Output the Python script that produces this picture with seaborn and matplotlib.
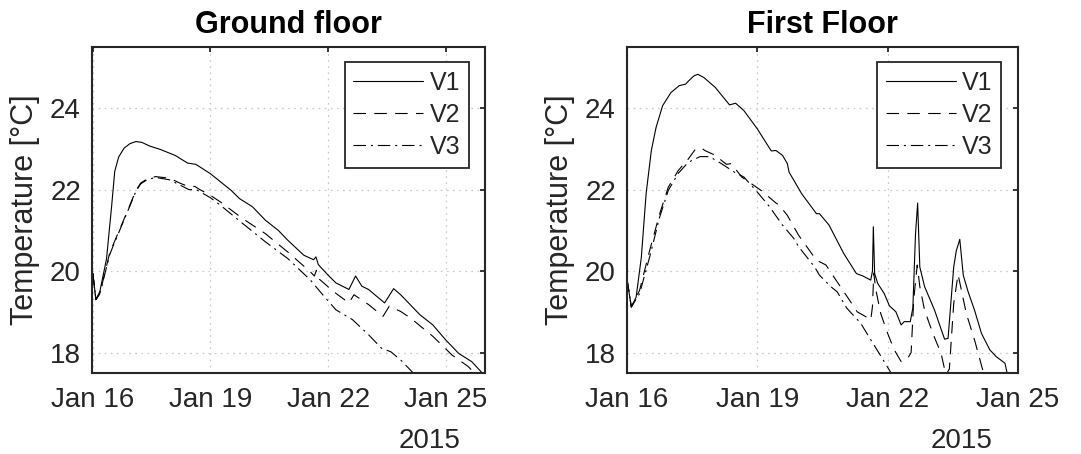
import numpy as np
import pandas as pd
import matplotlib
matplotlib.use("Agg")
import matplotlib.pyplot as plt
import matplotlib.dates as mdates
import seaborn as sns

# ---------------- data (days since 2015-01-16 00:00, temperature in °C) ----------------
gf_v1_day = [0.00, 0.08, 0.18, 0.35, 0.48, 0.56, 0.66, 0.80, 0.95, 1.10, 1.25, 1.45, 1.71, 2.10, 2.42,
             2.63, 3.00, 3.53, 3.74, 4.07, 4.40, 4.73, 4.97, 5.38, 5.63, 5.69, 5.75, 6.00, 6.20,
             6.53, 6.70, 6.86, 7.03, 7.44, 7.67, 7.85, 8.34, 8.67, 9.00, 9.33, 9.66, 9.94, 10.05]
gf_v1 = [19.95, 19.30, 19.50, 20.30, 21.59, 22.45, 22.80, 23.02, 23.13, 23.18, 23.16, 23.07, 22.99, 22.84, 22.65,
         22.62, 22.39, 21.98, 21.78, 21.58, 21.25, 21.00, 20.76, 20.39, 20.28, 20.35, 20.16, 19.90, 19.71,
         19.55, 19.88, 19.63, 19.55, 19.22, 19.57, 19.42, 18.93, 18.68, 18.31, 17.98, 17.78, 17.49, 17.35]

gf_v2_day = [0.00, 0.08, 0.18, 0.43, 0.52, 0.86, 1.10, 1.22, 1.38, 1.60, 1.96, 2.22, 2.45, 2.60, 2.73, 3.00,
             3.25, 3.82, 4.40, 4.97, 5.55, 5.65, 5.70, 5.78, 5.90, 6.12, 6.53, 6.66, 7.03, 7.40, 7.56,
             7.85, 8.10, 8.67, 9.16, 9.57, 9.74, 9.90]
gf_v2 = [19.95, 19.30, 19.45, 20.44, 20.65, 21.42, 21.98, 22.16, 22.26, 22.32, 22.28, 22.16, 22.07, 22.08, 22.00, 21.86,
         21.70, 21.29, 20.92, 20.47, 19.98, 19.88, 20.02, 19.80, 19.70, 19.51, 19.22, 19.42, 19.18, 18.89, 19.14,
         19.01, 18.85, 18.40, 17.94, 17.66, 17.49, 17.35]

gf_v3_day = [0.00, 0.08, 0.18, 0.43, 0.52, 0.86, 1.10, 1.22, 1.38, 1.60, 1.96, 2.45, 2.64, 3.00, 3.25, 3.82,
             4.40, 4.97, 5.55, 5.88, 6.20, 6.62, 7.03, 7.36, 7.60, 7.85, 8.18, 8.40]
gf_v3 = [19.95, 19.30, 19.45, 20.40, 20.62, 21.40, 21.96, 22.14, 22.24, 22.30, 22.24, 22.00, 22.00, 21.80, 21.62, 21.17,
         20.72, 20.31, 19.78, 19.40, 19.05, 18.81, 18.44, 18.11, 18.02, 17.82, 17.49, 17.30]

ff_v1_day = [0.00, 0.10, 0.21, 0.33, 0.44, 0.56, 0.67, 0.82, 1.01, 1.20, 1.35, 1.42, 1.54, 1.63, 1.77,
             2.03, 2.36, 2.50, 2.69, 3.00, 3.32, 3.43, 3.58, 3.69, 3.73, 4.02, 4.36, 4.43, 4.65, 4.99,
             5.28, 5.43, 5.61, 5.65, 5.67, 5.70, 5.77, 5.92, 6.04, 6.19, 6.31, 6.38, 6.52, 6.58, 6.64,
             6.69, 6.74, 6.85, 7.08, 7.31, 7.39, 7.52, 7.58, 7.66, 7.74, 7.85, 8.00, 8.16, 8.35, 8.50,
             8.70, 8.76, 8.85]
ff_v1 = [19.80, 19.12, 19.36, 20.34, 21.90, 22.96, 23.53, 24.06, 24.38, 24.55, 24.59, 24.67, 24.79, 24.83, 24.75,
         24.51, 24.08, 24.12, 23.94, 23.49, 22.95, 22.96, 22.84, 22.64, 22.43, 21.90, 21.41, 21.41, 21.13, 20.43,
         19.94, 19.88, 19.78, 20.00, 21.09, 19.94, 19.70, 19.45, 19.15, 19.00, 18.68, 18.76, 18.76, 19.10, 20.90,
         21.67, 20.10, 19.62, 19.04, 18.33, 18.35, 20.10, 20.50, 20.78, 19.90, 19.50, 19.04, 18.47, 18.07, 17.90,
         17.74, 17.45, 17.30]

ff_v2_day = [0.00, 0.10, 0.29, 0.52, 0.75, 0.95, 1.18, 1.41, 1.58, 1.72, 1.79, 2.06, 2.17, 2.29, 2.40,
             2.64, 3.10, 3.43, 3.50, 3.69, 3.95, 4.36, 4.58, 4.76, 5.12, 5.30, 5.50, 5.61, 5.65, 5.68,
             5.73, 5.84, 6.00, 6.15, 6.31, 6.46, 6.54, 6.60, 6.68, 6.74, 6.85, 7.04, 7.23, 7.34, 7.42,
             7.52, 7.62, 7.68, 7.81, 8.00, 8.22, 8.30]
ff_v2 = [19.80, 19.12, 19.53, 20.50, 21.40, 22.06, 22.47, 22.75, 23.00, 23.02, 22.96, 22.83, 22.72, 22.62, 22.64,
         22.31, 21.97, 21.67, 21.62, 21.37, 20.88, 20.27, 20.15, 19.86, 19.29, 19.00, 18.88, 18.80, 19.13, 19.95,
         19.53, 18.96, 18.47, 18.07, 17.78, 17.86, 18.00, 19.30, 20.15, 19.62, 19.04, 18.47, 17.98, 17.45, 17.60,
         19.20, 19.92, 19.62, 18.96, 18.31, 17.45, 17.30]

ff_v3_day = [0.00, 0.10, 0.29, 0.52, 0.75, 0.95, 1.18, 1.41, 1.68, 1.90, 2.17, 2.47, 2.69, 3.00, 3.28,
             3.58, 3.84, 3.95, 4.32, 4.43, 4.69, 4.84, 5.06, 5.38, 5.62, 5.84, 6.05, 6.20]
ff_v3 = [19.80, 19.12, 19.45, 20.34, 21.32, 21.98, 22.40, 22.67, 22.81, 22.81, 22.64, 22.43, 22.31, 21.94, 21.58,
         21.13, 20.80, 20.60, 20.10, 19.90, 19.62, 19.49, 19.09, 18.72, 18.30, 17.92, 17.55, 17.30]

series_labels = ["V1", "V2", "V3"]
panel_titles = ["Ground floor", "First Floor"]
tick_dates = ["2015-01-16", "2015-01-19", "2015-01-22", "2015-01-25"]
y_ticks = [18, 20, 22, 24]
year_label = "2015"
y_label = "Temperature [°C]"

# ---------------- styling ----------------
sns.set_style("white")
plt.rcParams["font.family"] = ["Liberation Sans", "DejaVu Sans"]
plt.rcParams["lines.scale_dashes"] = False

START = pd.Timestamp("2015-01-16")
DARK = "#262626"
styles = ["-", (0, (9, 6)), (0, (9, 3.5, 1.5, 3.5))]


def to_time(days):
    return START + pd.to_timedelta(np.asarray(days), unit="D")


W, H = 1081, 454
fig = plt.figure(figsize=(W / 100, H / 100), dpi=100)


def place(l, t, r, b):
    return [l / W, 1 - b / H, (r - l) / W, (b - t) / H]


ax1 = fig.add_axes(place(92, 47, 485, 373))
ax2 = fig.add_axes(place(627, 47, 1018, 373))

panels = [
    (ax1, [(gf_v1_day, gf_v1), (gf_v2_day, gf_v2), (gf_v3_day, gf_v3)], 10.0, 0.959),
    (ax2, [(ff_v1_day, ff_v1), (ff_v2_day, ff_v2), (ff_v3_day, ff_v3)], 9.0, 0.957),
]

for i, (ax, data, xmax, leg_x) in enumerate(panels):
    for (days, vals), lab, ls in zip(data, series_labels, styles):
        df = pd.DataFrame({"time": to_time(days), "temp": vals})
        sns.lineplot(data=df, x="time", y="temp", ax=ax, color="black", lw=0.8,
                     linestyle=ls, label=lab, estimator=None, sort=False)
    ax.set_xlim(START - pd.Timedelta(days=0.02 if i == 0 else 0), START + pd.Timedelta(days=xmax))
    ax.set_ylim(17.5, 25.5)
    ax.set_yticks(y_ticks)
    ax.set_xticks(pd.to_datetime(tick_dates))
    ax.xaxis.set_major_formatter(mdates.DateFormatter("%b %d"))
    ax.set_axisbelow(True)
    ax.grid(True, linestyle=(0, (1.2, 3.2)), color="#c8c8c8", lw=0.9)
    for sp in ax.spines.values():
        sp.set_color(DARK)
        sp.set_linewidth(1.5)
    ax.tick_params(axis="both", direction="in", length=3.5, width=1.3, top=True, right=True,
                   color=DARK, labelcolor=DARK, labelsize=20)
    ax.tick_params(axis="x", pad=10)
    ax.tick_params(axis="y", pad=8)
    ax.set_xlabel("")
    ax.set_ylabel(y_label, fontsize=22, color=DARK, labelpad=7)
    ax.set_title(panel_titles[i], fontsize=22, fontweight="bold", pad=10, color="black")
    ax.annotate(year_label, xy=(1, 0), xycoords="axes fraction", xytext=(-25 * 0.72, -75 * 0.72),
                textcoords="offset points", ha="right", va="baseline", fontsize=20, color=DARK)
    leg = ax.legend(loc="upper right", bbox_to_anchor=(leg_x, 0.954), borderaxespad=0,
                    fontsize=18, frameon=True, fancybox=False, shadow=False,
                    handlelength=2.8, handletextpad=0.25, borderpad=0.35, labelspacing=0.33)
    leg.get_frame().set_edgecolor(DARK)
    leg.get_frame().set_linewidth(1.3)
    leg.get_frame().set_facecolor("white")
    leg.get_frame().set_alpha(1)
    for t in leg.get_texts():
        t.set_color(DARK)

fig.savefig("out.png", dpi=100)
